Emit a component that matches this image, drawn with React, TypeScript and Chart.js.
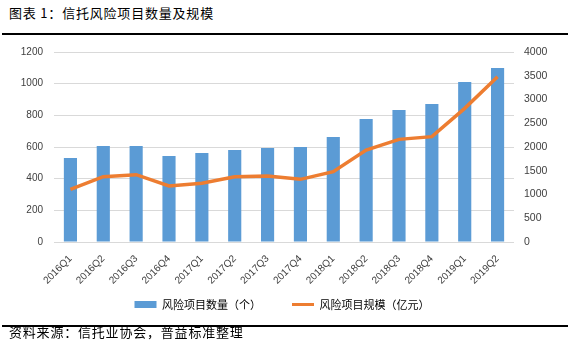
import React, { useEffect, useRef } from "react";
import { Chart, registerables } from "chart.js";

Chart.register(...registerables);

const categories = ["2016Q1", "2016Q2", "2016Q3", "2016Q4", "2017Q1", "2017Q2", "2017Q3", "2017Q4", "2018Q1", "2018Q2", "2018Q3", "2018Q4", "2019Q1", "2019Q2"];
const projectCounts = [530, 606, 606, 543, 562, 581, 594, 600, 663, 777, 834, 872, 1011, 1099];
const projectScale = [1109, 1375, 1418, 1179, 1235, 1375, 1389, 1319, 1481, 1937, 2161, 2218, 2814, 3481];
const countLabel = "风险项目数量（个）";
const scaleLabel = "风险项目规模（亿元）";
const titleText = "图表 1：信托风险项目数量及规模";
const sourceText = "资料来源：信托业协会，普益标准整理";

const BLUE = "#5B9BD5";
const ORANGE = "#ED7D31";
const CJK = '"Noto Sans CJK SC", "Noto Sans", sans-serif';
const LATIN = '"Liberation Sans", Arial, sans-serif';

const CANVAS_TOP = 34;
const LEGEND_PAD = 31;

const legendShift = {
  id: "legendShift",
  afterLayout(chart: any) {
    const lg = chart.legend;
    if (!lg) return;
    const targetTop = 304.5 - CANVAS_TOP - (LEGEND_PAD + 5.5);
    const dy = targetTop - lg.top;
    lg.top += dy;
    lg.bottom += dy;
    lg.left -= 4.5;
    lg.right -= 4.5;
  },
};

export default function App() {
  const ref = useRef<HTMLCanvasElement | null>(null);

  useEffect(() => {
    document.body.style.margin = "0";
    const canvas = ref.current;
    if (!canvas) return;
    const chart = new Chart(canvas, {
      type: "bar",
      data: {
        labels: categories,
        datasets: [
          {
            type: "bar",
            label: countLabel,
            data: projectCounts,
            backgroundColor: BLUE,
            borderWidth: 0,
            categoryPercentage: 1,
            barPercentage: 0.4,
            yAxisID: "y",
            order: 1,
          },
          {
            type: "line",
            label: scaleLabel,
            data: projectScale,
            borderColor: ORANGE,
            backgroundColor: ORANGE,
            borderWidth: 3.5,
            pointRadius: 0,
            tension: 0,
            yAxisID: "y1",
            order: 0,
          },
        ],
      },
      options: {
        animation: false,
        responsive: false,
        maintainAspectRatio: false,
        layout: { padding: { top: 18, left: 0, right: 0, bottom: 0 } },
        plugins: {
          tooltip: { enabled: false },
          legend: {
            position: "bottom",
            labels: {
              usePointStyle: true,
              pointStyleWidth: 22,
              boxHeight: 7,
              padding: LEGEND_PAD,
              color: "#262626",
              font: { family: CJK, size: 11 },
              generateLabels: () => [
                { text: countLabel, fillStyle: BLUE, strokeStyle: BLUE, lineWidth: 0, pointStyle: "rect", hidden: false, datasetIndex: 0 },
                { text: scaleLabel, fillStyle: ORANGE, strokeStyle: ORANGE, lineWidth: 3, pointStyle: "line", hidden: false, datasetIndex: 1 },
              ] as any,
            },
          },
        },
        scales: {
          x: {
            grid: { display: false },
            border: { display: false },
            ticks: {
              autoSkip: false,
              minRotation: 45,
              maxRotation: 45,
              padding: 3,
              color: "#404040",
              font: { family: LATIN, size: 10 },
            },
            afterFit: (s: any) => { s.height = 46; },
          },
          y: {
            position: "left",
            min: 0,
            max: 1200,
            ticks: { stepSize: 200, padding: 11, color: "#404040", font: { family: LATIN, size: 10 }, callback: (v: any) => String(v) },
            grid: { color: "#D9D9D9", lineWidth: 1, drawTicks: false },
            border: { display: false },
            afterFit: (s: any) => { s.width = 54; },
          },
          y1: {
            position: "right",
            min: 0,
            max: 4000,
            ticks: { stepSize: 500, padding: 10, color: "#404040", font: { family: LATIN, size: 10.5 }, callback: (v: any) => String(v) },
            grid: { drawOnChartArea: false, drawTicks: false },
            border: { display: false },
            afterFit: (s: any) => { s.width = 59; },
          },
        },
      } as any,
      plugins: [legendShift],
    });
    return () => chart.destroy();
  }, []);

  const canvasH = 208 + 46 + (11 + LEGEND_PAD + 10);

  return (
    <div style={{ position: "relative", width: 573, height: 350, background: "#fff", overflow: "hidden" }}>
      <div style={{ position: "absolute", left: 9, top: 4, fontFamily: CJK, fontSize: 13, letterSpacing: 0.8, color: "#000", lineHeight: "18px", whiteSpace: "nowrap" }}>
        {titleText}
      </div>
      <div style={{ position: "absolute", left: 2, width: 566, top: 33, height: 1.5, background: "#000" }} />
      <canvas ref={ref} width={573} height={canvasH} style={{ position: "absolute", left: 0, top: CANVAS_TOP, width: 573, height: canvasH }} />
      <div style={{ position: "absolute", left: 2, width: 566, top: 325, height: 1.5, background: "#000" }} />
      <div style={{ position: "absolute", left: 9, top: 323, fontFamily: CJK, fontSize: 13, letterSpacing: 0.8, color: "#000", lineHeight: "18px", whiteSpace: "nowrap" }}>
        {sourceText}
      </div>
    </div>
  );
}
